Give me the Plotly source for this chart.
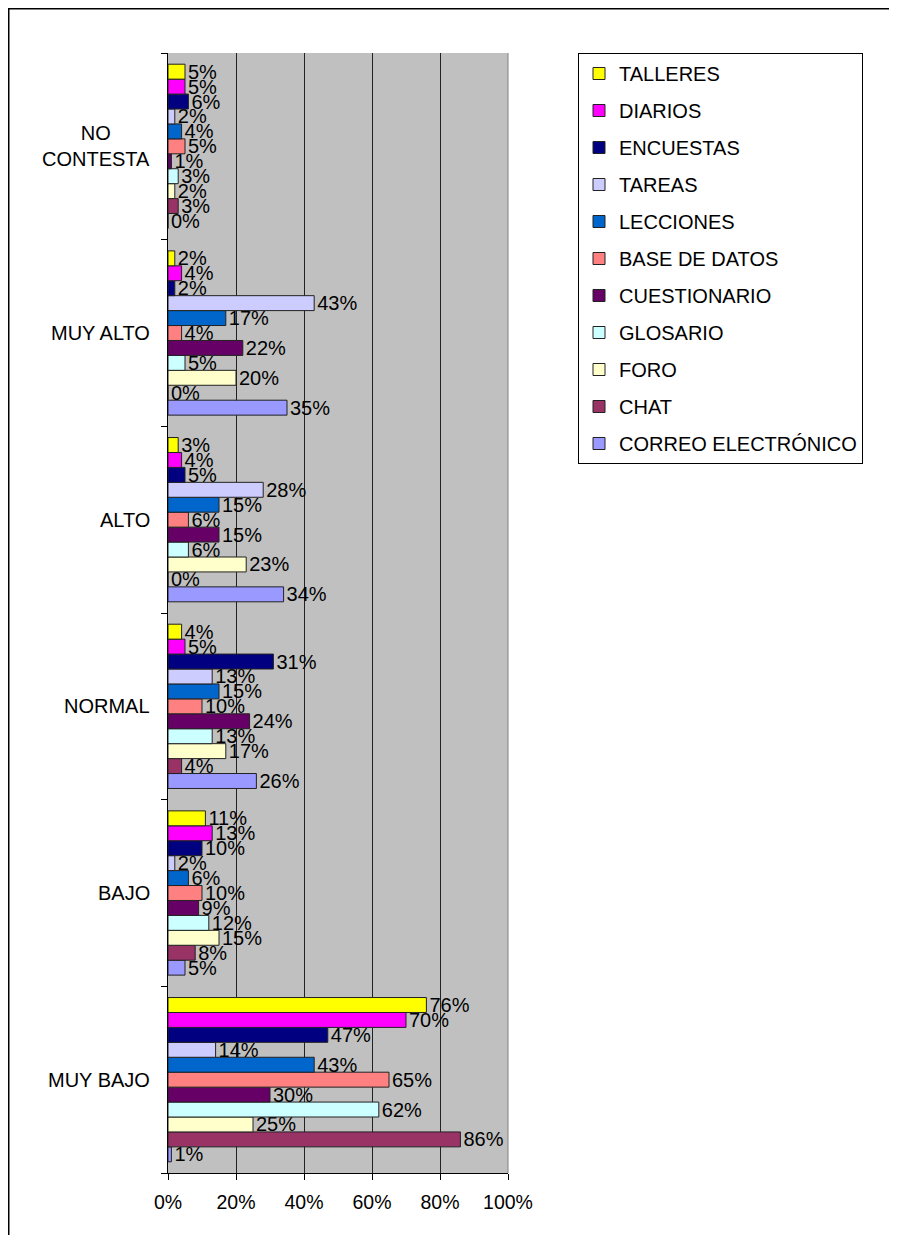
import plotly.graph_objects as go

categories = ["MUY BAJO", "BAJO", "NORMAL", "ALTO", "MUY ALTO", "NO CONTESTA"]
category_labels = ["MUY BAJO", "BAJO", "NORMAL", "ALTO", "MUY ALTO", "NO<br>CONTESTA"]

# series listed bottom-to-top within each group
series_names = ["CORREO ELECTRÓNICO", "CHAT", "FORO", "GLOSARIO", "CUESTIONARIO",
                "BASE DE DATOS", "LECCIONES", "TAREAS", "ENCUESTAS", "DIARIOS", "TALLERES"]
series_colors = ["#9999FF", "#993366", "#FFFFCC", "#CCFFFF", "#660066",
                 "#FF8080", "#0066CC", "#CCCCFF", "#000080", "#FF00FF", "#FFFF00"]

correo = [1, 5, 26, 34, 35, 0]
chat = [86, 8, 4, 0, 0, 3]
foro = [25, 15, 17, 23, 20, 2]
glosario = [62, 12, 13, 6, 5, 3]
cuestionario = [30, 9, 24, 15, 22, 1]
base_datos = [65, 10, 10, 6, 4, 5]
lecciones = [43, 6, 15, 15, 17, 4]
tareas = [14, 2, 13, 28, 43, 2]
encuestas = [47, 10, 31, 5, 2, 6]
diarios = [70, 13, 5, 4, 4, 5]
talleres = [76, 11, 4, 3, 2, 5]

series_values = [correo, chat, foro, glosario, cuestionario, base_datos,
                 lecciones, tareas, encuestas, diarios, talleres]

x_ticks = [0, 20, 40, 60, 80, 100]
x_tick_labels = ["0%", "20%", "40%", "60%", "80%", "100%"]

FONT = "Liberation Sans, Arial, sans-serif"
FS = 20

# page body has an 8px margin: work in window pixels, convert to figure pixels
OFF = 8
WIN_W, WIN_H = 897, 1235
W, H = WIN_W - OFF, WIN_H - OFF
PX0, PX1, PY0, PY1 = 168, 508, 53, 1173   # plot area in window pixels
L = PX0 - OFF
T = PY0 - OFF
R = W - (PX1 - OFF)
B = H - (PY1 - OFF)
pw, ph = PX1 - PX0, PY1 - PY0

def px_x(px):
    return (px - PX0) / pw

def px_y(py):
    return (PY1 - py) / ph

fig = go.Figure()
n = len(series_names)
for i, (name, color, vals) in enumerate(zip(series_names, series_colors, series_values)):
    fig.add_trace(go.Bar(
        y=categories, x=vals, name=name, orientation="h",
        marker=dict(color=color, line=dict(color="#222222", width=1)),
        text=[f"{v}%" for v in vals], textposition="outside",
        constraintext="none", cliponaxis=False,
        textfont=dict(family=FONT, size=FS, color="#000000"),
        legendgroup=name, legendrank=n - i,
    ))

annotations = []
for cat, lab in zip(categories, category_labels):
    annotations.append(dict(
        x=px_x(152), xref="paper", y=cat, yref="y", text=lab, showarrow=False,
        xanchor="right", align="center", font=dict(family=FONT, size=FS, color="#000000"),
    ))

shapes = [
    dict(type="line", xref="paper", yref="paper", x0=px_x(OFF), x1=px_x(WIN_W + 5),
         y0=px_y(OFF + 0.5), y1=px_y(OFF + 0.5), line=dict(color="#000000", width=2)),
    dict(type="line", xref="paper", yref="paper", x0=px_x(OFF + 0.5), x1=px_x(OFF + 0.5),
         y0=px_y(OFF), y1=px_y(WIN_H + 10), line=dict(color="#000000", width=2)),
    dict(type="line", xref="paper", yref="paper", x0=1, x1=1, y0=0, y1=1,
         line=dict(color="#808080", width=1)),
]

fig.update_layout(
    width=W, height=H,
    margin=dict(l=L, r=R, t=T, b=B),
    paper_bgcolor="#FFFFFF", plot_bgcolor="#C0C0C0",
    barmode="group", bargap=0.12, bargroupgap=0,
    font=dict(family=FONT, size=FS, color="#000000"),
    showlegend=True,
    legend=dict(
        x=px_x(578), xanchor="left", y=1, yanchor="top",
        traceorder="grouped", tracegroupgap=8,
        bordercolor="#000000", borderwidth=1, bgcolor="#FFFFFF",
        font=dict(family=FONT, size=FS, color="#000000"),
    ),
    xaxis=dict(
        range=[0, 100], tickmode="array", tickvals=x_ticks, ticktext=x_tick_labels,
        showgrid=True, gridcolor="#222222", gridwidth=1,
        showline=True, linecolor="#000000", linewidth=1,
        ticks="outside", ticklen=6, tickcolor="#000000", ticklabelstandoff=6,
        zeroline=False, tickfont=dict(family=FONT, size=19.5),
    ),
    yaxis=dict(
        categoryorder="array", categoryarray=categories,
        showticklabels=False, showgrid=False,
        showline=True, linecolor="#000000", linewidth=1,
        ticks="outside", ticklen=6, tickcolor="#000000", tickson="boundaries",
    ),
    annotations=annotations, shapes=shapes,
)

fig.write_html("out.html")
